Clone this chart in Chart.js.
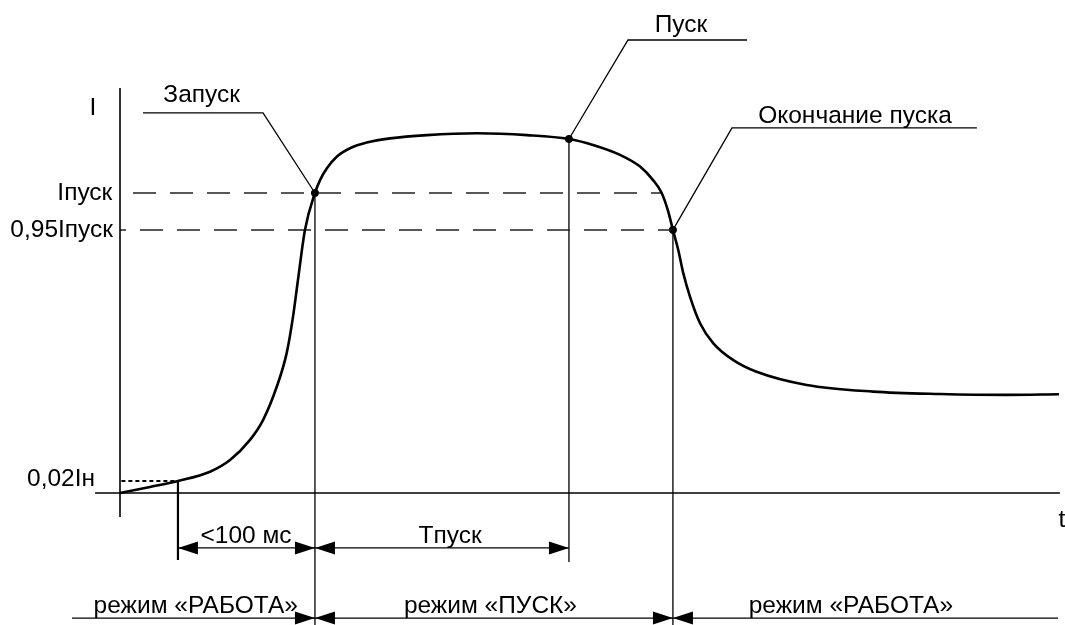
<!DOCTYPE html>
<html lang="ru">
<head>
<meta charset="utf-8">
<title>Пуск двигателя: ток во времени</title>
<script src="https://cdn.jsdelivr.net/npm/chart.js@4.4.1/dist/chart.umd.min.js"></script>
<style>
  html, body { margin: 0; padding: 0; background: #ffffff; }
  #wrap { width: 1065px; height: 625px; position: relative; }
</style>
</head>
<body>
<div id="wrap"><canvas id="chart"></canvas></div>
<script>
// Current curve during start-up: time t (ms) and current I (Iпуск = 100)
const curveT = [0, 21.9, 42.3, 65.7, 80.3, 94.9, 104.4, 114.4, 121.7, 126.3, 129.9, 135, 142.3, 146,
                150.9, 158.2, 167.9, 180.1, 197.1, 224.1, 260.6, 297.1, 327.7, 345.3, 365, 379.6, 389.1,
                395.4, 400.2, 403.6, 407.5, 411.2, 416.1, 423.4, 433.1, 447.7, 464.7, 501.2, 549.6, 598.5,
                647.2, 685.4];
const curveI = [0, 2, 4, 7.1, 11, 17.7, 24.3, 35.4, 46.7, 58.8, 71, 87.7, 100, 104.3,
                108.2, 112.1, 114.9, 116.8, 118.2, 119.3, 119.9, 119.3, 118, 116, 112.7, 108.8, 104.3,
                100, 93.8, 87.7, 81, 73.2, 65.4, 56.6, 49.9, 44.3, 40.4, 36, 33.8, 33,
                32.7, 32.9];

// Characteristic moments (ms)
const tDetect = 42.3;    // current reaches 0,02Iн
const tLaunch = 142.3;   // Запуск
const tPeak = 327.7;     // Пуск
const tEnd = 403.6;      // Окончание пуска
const tCross = 395.4;    // curve falls back through Iпуск

// Current levels and their axis labels
const levelValues = [100, 87.7, 4];
const levelLabels = ['Iпуск', '0,95Iпуск', '0,02Iн'];
const peakI = 118;

// Marked points on the curve
const markT = [tLaunch, tPeak, tEnd];
const markI = [100, peakI, 87.7];
const markNames = ['Запуск', 'Пуск', 'Окончание пуска'];

// Dimension and mode texts
const dimLabels = ['<100 мс', 'Tпуск'];
const modeLabels = ['режим «РАБОТА»', 'режим «ПУСК»', 'режим «РАБОТА»'];

// Axis extents and helper rows (data units)
const tAxisMin = -18.2, tAxisMax = 686.1;
const iAxisMin = -8, iAxisMax = 135;
const dimRowI = -18.3;
const modeRowI = -41.7;
const bottomI = -44;
const modeRowMin = -35, modeRowMax = 684.7;

const INK = '#000000';
const FONT = '24.5px "Liberation Sans", Arial, sans-serif';

const seg = (pts) => pts.map(([x, y]) => ({ x, y }));

function lineSet(data, extra) {
  return Object.assign({
    type: 'line', data, borderColor: INK, borderWidth: 1.3, pointRadius: 0,
    fill: false, tension: 0, showLine: true
  }, extra || {});
}

const datasets = [
  // current curve
  lineSet(curveT.map((t, i) => ({ x: t, y: curveI[i] })),
    { borderWidth: 2.6, cubicInterpolationMode: 'monotone', borderColor: '#000' }),
  // axes
  lineSet(seg([[0, iAxisMin], [0, iAxisMax]]), { borderWidth: 1.6 }),
  lineSet(seg([[tAxisMin, 0], [tAxisMax, 0]]), { borderWidth: 1.6 }),
  // level lines
  lineSet(seg([[0, levelValues[0]], [tCross, levelValues[0]]]),
    { borderColor: '#222', borderWidth: 1.5, borderDash: [23, 14], borderDashOffset: 24 }),
  lineSet(seg([[0, levelValues[1]], [tEnd, levelValues[1]]]),
    { borderColor: '#222', borderWidth: 1.5, borderDash: [23, 14], borderDashOffset: 17 }),
  lineSet(seg([[1, levelValues[2]], [tDetect, levelValues[2]]]),
    { borderWidth: 2, borderDash: [4, 3] }),
  // vertical markers
  lineSet(seg([[tDetect, levelValues[2]], [tDetect, -22.3]]), { borderWidth: 2.2 }),
  lineSet(seg([[tLaunch, 100], [tLaunch, bottomI]])),
  lineSet(seg([[tPeak, peakI], [tPeak, -23]])),
  lineSet(seg([[tEnd, 87.7], [tEnd, bottomI]])),
  // dimension rows
  lineSet(seg([[tDetect, dimRowI], [tPeak, dimRowI]])),
  lineSet(seg([[modeRowMin, modeRowI], [modeRowMax, modeRowI]])),
  // leader lines to the marked points
  lineSet(seg([[16.8, 126.7], [104.4, 126.7], [tLaunch, 100]])),
  lineSet(seg([[457.7, 151], [370.8, 151], [tPeak, peakI]])),
  lineSet(seg([[625.5, 121.7], [446.7, 121.7], [tEnd, 87.7]])),
  // point marks
  { type: 'scatter', data: markT.map((t, i) => ({ x: t, y: markI[i] })),
    pointRadius: 3.6, pointBackgroundColor: '#000', pointBorderColor: '#000', showLine: false }
];

// Arrowheads on dimension rows: tip position and direction
const arrows = [
  { t: tDetect, i: dimRowI, dir: -1 }, { t: tLaunch, i: dimRowI, dir: 1 },
  { t: tLaunch, i: dimRowI, dir: -1 }, { t: tPeak, i: dimRowI, dir: 1 },
  { t: tLaunch, i: modeRowI, dir: 1 }, { t: tLaunch, i: modeRowI, dir: -1 },
  { t: tEnd, i: modeRowI, dir: 1 }, { t: tEnd, i: modeRowI, dir: -1 }
];

// Text placed in data coordinates
const texts = [
  { s: 'I', t: -19.7, i: 128.3, align: 'center', base: 'middle' },
  { s: 't', t: 687.6, i: -9, align: 'center', base: 'middle' },
  { s: levelLabels[0], t: -5.6, i: levelValues[0], align: 'right', base: 'middle' },
  { s: levelLabels[1], t: -5.1, i: levelValues[1], align: 'right', base: 'middle' },
  { s: levelLabels[2], t: -18.2, i: levelValues[2] + 0.5, align: 'right', base: 'middle' },
  { s: markNames[0], t: 59.6, i: 130.4, align: 'center', base: 'alphabetic' },
  { s: markNames[1], t: 409.5, i: 153.7, align: 'center', base: 'alphabetic' },
  { s: markNames[2], t: 536.5, i: 123.3, align: 'center', base: 'alphabetic' },
  { s: dimLabels[0], t: 92, i: -16.8, align: 'center', base: 'alphabetic' },
  { s: dimLabels[1], t: 240.9, i: -16.7, align: 'center', base: 'alphabetic' },
  { s: modeLabels[0], t: 55.3, i: -40, align: 'center', base: 'alphabetic' },
  { s: modeLabels[1], t: 270.4, i: -40, align: 'center', base: 'alphabetic' },
  { s: modeLabels[2], t: 533.5, i: -40, align: 'center', base: 'alphabetic' }
];

const annotate = {
  id: 'annotate',
  afterDatasetsDraw(chart) {
    const { ctx, scales: { x, y } } = chart;
    ctx.save();
    ctx.fillStyle = '#000';
    arrows.forEach(a => {
      const px = x.getPixelForValue(a.t), py = y.getPixelForValue(a.i);
      const len = 20, half = 6.5;
      ctx.beginPath();
      ctx.moveTo(px, py);
      ctx.lineTo(px - a.dir * len, py - half);
      ctx.lineTo(px - a.dir * len, py + half);
      ctx.closePath();
      ctx.fill();
    });
    ctx.font = FONT;
    ctx.fillStyle = INK;
    texts.forEach(o => {
      ctx.textAlign = o.align;
      ctx.textBaseline = o.base;
      ctx.fillText(o.s, x.getPixelForValue(o.t), y.getPixelForValue(o.i));
    });
    ctx.restore();
  }
};

new Chart(document.getElementById('chart'), {
  type: 'line',
  data: { datasets },
  options: {
    responsive: true,
    maintainAspectRatio: false,
    animation: false,
    layout: { padding: 0, autoPadding: false },
    plugins: { legend: { display: false }, tooltip: { enabled: false }, title: { display: false } },
    scales: {
      x: { type: 'linear', display: false, min: -87.6, max: 689.8 },
      y: { type: 'linear', display: false, min: -44, max: 164.33 }
    }
  },
  plugins: [annotate]
});
</script>
</body>
</html>
